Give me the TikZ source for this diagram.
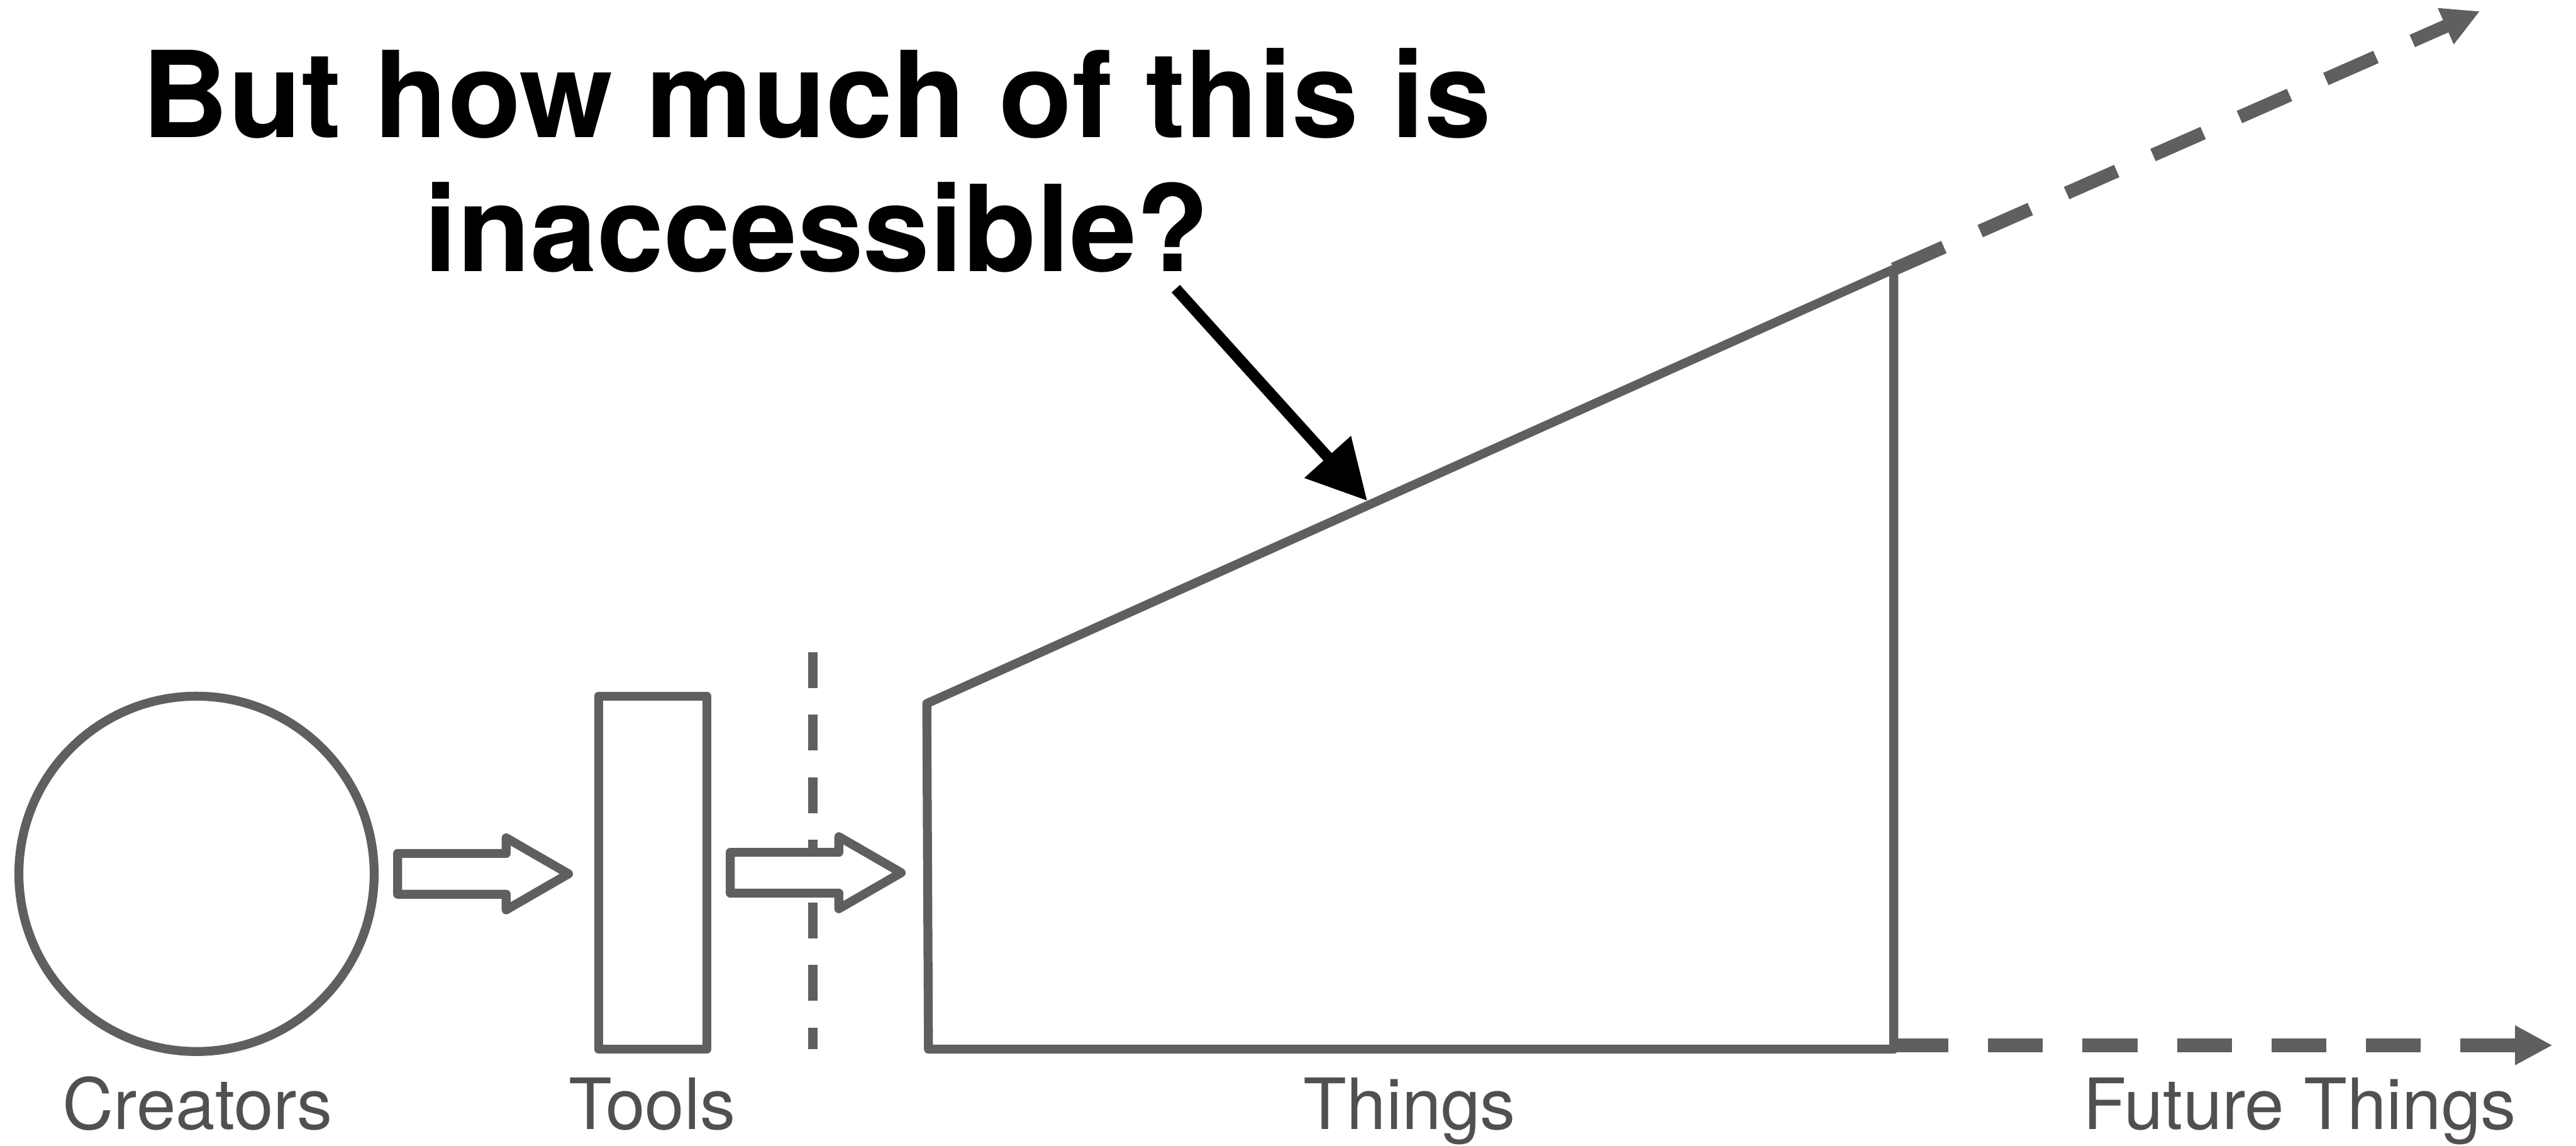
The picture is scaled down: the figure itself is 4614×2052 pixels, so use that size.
\documentclass[tikz,border=0pt]{standalone}
\usepackage{fontspec}
\setmainfont{TeX Gyre Heros}
\usetikzlibrary{arrows.meta,positioning,calc,shapes.arrows}
\definecolor{linegrey}{HTML}{5F5F5F}
\definecolor{namegrey}{HTML}{505050}

\begin{document}
\begin{tikzpicture}[x=0.01cm,y=-0.01cm,
  outline/.style={draw=linegrey,line width=0.16cm,line join=round},
  sublabel/.style={text=namegrey,font=\fontsize{36}{40}\selectfont,anchor=base,inner sep=0pt},
  block/.style={single arrow,outline,fill=white,minimum height=3.06cm,inner sep=0pt,inner ysep=0.285cm,
    single arrow head extend=0.28cm,single arrow tip angle=60,anchor=tail},
  future/.style={draw=linegrey,line width=0.24cm,dash pattern=on 0.98cm off 0.71cm,
    -{Triangle[length=0.67cm,width=0.66cm]}}]
  \useasboundingbox (0,0) rectangle (4614,2052);
  \node[font=\bfseries\fontsize{61}{68}\selectfont,align=center,anchor=north,inner sep=0pt] (question) at (1463,86) {But how much of this is\\inaccessible?};
  \node[circle,outline,minimum size=6.36cm,inner sep=0pt] (creators) at (352,1565) {};
  \node[rectangle,outline,minimum width=1.94cm,minimum height=6.32cm,inner sep=0pt] (tools) at (1169,1563) {};
  \coordinate (tl) at (1660,1260);
  \coordinate (tr) at (3392,482);
  \coordinate (br) at (3392,1879);
  \coordinate (bl) at (1663,1879);
  \draw[outline] (tl) -- (tr) -- (br) -- (bl) -- cycle;
  \coordinate (cuttop) at (1456,1168);
  \coordinate (cutbot) at (1456,1879);
  \draw[draw=linegrey,line width=0.16cm,dash pattern=on 0.64cm off 0.48cm] (cuttop) -- (cutbot);
  \node[block] (push1) at ($(creators.east)+(26,0)$) {};
  \node[block] (push2) at ($(tools.east)+(26,0)$) {};
  \coordinate (upend) at (4442,20);
  \coordinate (rightstart) at (3392,1872);
  \coordinate (rightend) at (4572,1872);
  \draw[future] (tr) -- (upend);
  \draw[future] (rightstart) -- (rightend);
  \coordinate (qtail) at (2106,517);
  \coordinate (qtip) at (2449,897);
  \draw[line width=0.2cm,-{Triangle[length=1.06cm,width=1.07cm]}] (qtail) -- (qtip);
  \node[sublabel] (creatorsname) at (354,2023) {Creators};
  \node[sublabel] (toolsname) at (1168,2023) {Tools};
  \node[sublabel] (thingsname) at (2525,2023) {Things};
  \node[sublabel] (futurename) at (4119,2023) {Future Things};
\end{tikzpicture}
\end{document}
